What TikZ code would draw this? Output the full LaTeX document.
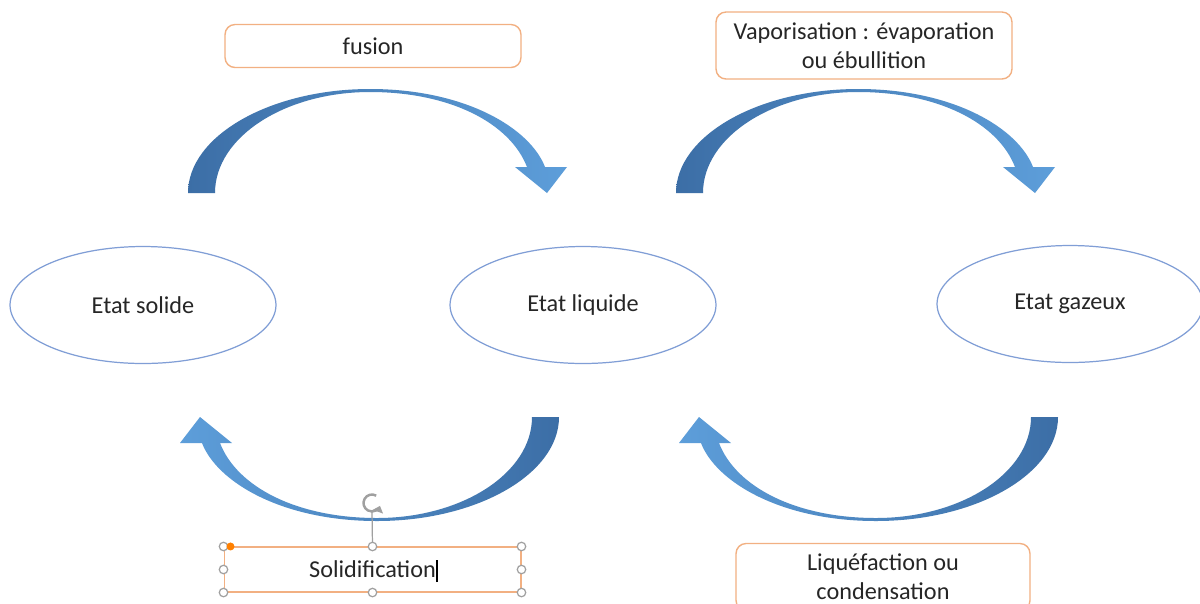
\documentclass[tikz,border=0pt]{standalone}
\usepackage{fontspec}
\setmainfont{Carlito}
\usetikzlibrary{arrows.meta, positioning, shapes.geometric}

\definecolor{arrowdark}{RGB}{60,110,166}
\definecolor{arrowlight}{RGB}{93,158,218}
\definecolor{bubbleblue}{RGB}{128,158,214}
\definecolor{boxorange}{RGB}{242,176,130}
\definecolor{textgray}{RGB}{38,38,38}
\definecolor{handlegray}{RGB}{160,160,160}

\tikzset{
    curvedarrow/.pic={
        \path[pic actions] (-182,0)
            .. controls (-182,57) and (-100,104) .. (0,104)
            .. controls (95,104) and (160,65) .. (175,26)
            -- (197,26) -- (177,0) -- (145,26) -- (157,26)
            .. controls (140,70) and (80,101) .. (0,101)
            .. controls (-85,101) and (-155,56) .. (-155,0)
            -- cycle;
    }
}

\begin{document}
\begin{tikzpicture}[
    x=0.02cm, y=0.02cm,
    statebubble/.style={
        ellipse,
        draw=bubbleblue,
        line width=0.7pt,
        minimum width=5.32cm,
        minimum height=2.34cm,
        text=textgray,
        font=\fontsize{13.8pt}{16.5pt}\selectfont
    },
    labelbox/.style={
        draw=boxorange,
        line width=0.8pt,
        rounded corners=2mm,
        minimum width=5.92cm,
        align=center,
        text=textgray,
        font=\fontsize{13.8pt}{16.5pt}\selectfont
    },
    handle/.style={
        circle,
        draw=handlegray,
        fill=white,
        line width=0.7pt,
        inner sep=0pt,
        minimum size=0.17cm
    }
]
    \useasboundingbox[fill=white] (0,0) rectangle (1200,-603);

    % les trois etats
    \node[statebubble] (solide) at (143,-305) {Etat solide};
    \node[statebubble] (liquide) at (583,-305) {Etat liquide};
    \node[statebubble] (gazeux) at (1070,-304) {Etat gazeux};

    % fleches courbes
    \pic[left color=arrowdark, right color=arrowlight] at (370,-193) {curvedarrow};
    \pic[left color=arrowdark, right color=arrowlight] at (858,-193) {curvedarrow};
    \pic[rotate=180, left color=arrowlight, right color=arrowdark] at (377,-417) {curvedarrow};
    \pic[rotate=180, left color=arrowlight, right color=arrowdark] at (876,-417) {curvedarrow};

    % changements d'etat
    \node[labelbox, minimum height=0.86cm] (fusion) at (373,-46) {fusion};
    \node[labelbox, minimum height=1.34cm] (vaporisation) at (864,-45.5)
        {Vaporisation : évaporation\\ou ébullition};
    \node[labelbox, minimum height=1.34cm, minimum width=5.88cm] (liquefaction) at (883,-577)
        {Liquéfaction ou\\condensation};
    \node[draw=boxorange, line width=0.6pt, minimum width=5.94cm, minimum height=0.9cm,
          text=textgray, font=\fontsize{13.8pt}{16.5pt}\selectfont]
        (solidification) at (372.5,-569.5) {Solidification};

    % curseur et poignees de selection
    \coordinate (cursor) at (437,-571);
    \draw[black, line width=0.6pt] (cursor) ++(0,-11) -- ++(0,22);
    \node[handle, draw=none, fill=none] (rotation) at (372,-503) {};
    \draw[handlegray, line width=0.7pt] (rotation.south) ++(0,-0.05cm) -- (solidification.north);
    \draw[handlegray, line width=1.4pt, -{Triangle[length=3.5pt,width=6pt]}]
        (rotation.center) ++(60:0.17cm) arc[start angle=60, end angle=340, radius=0.17cm];
    \foreach \anchor in {north west, north, north east, west, east, south west, south, south east}
        \node[handle] at (solidification.\anchor) {};
    \fill[orange] ([xshift=0.14cm]solidification.north west) circle[radius=0.08cm];
\end{tikzpicture}
\end{document}
